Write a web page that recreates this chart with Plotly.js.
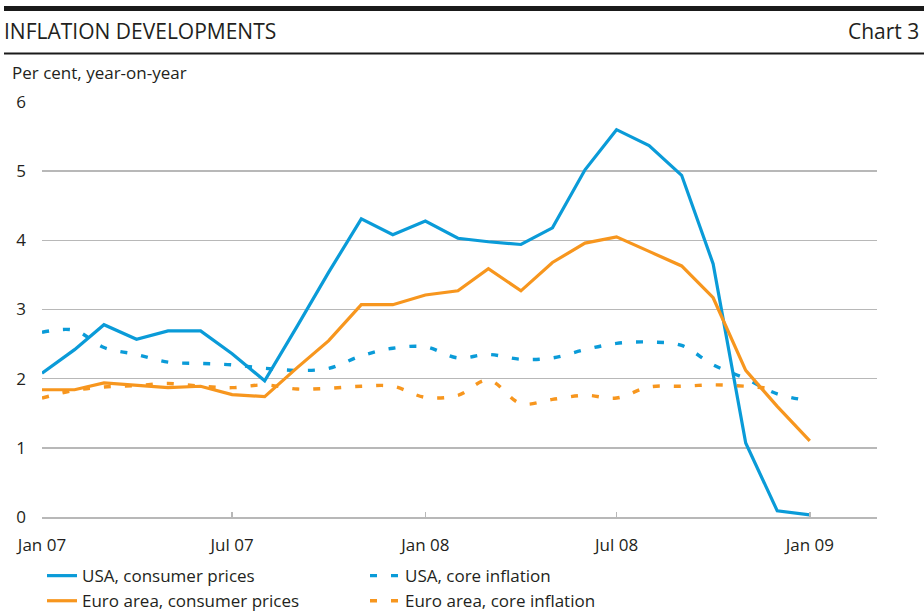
<!DOCTYPE html>
<html><head><meta charset="utf-8">
<script src="https://cdn.plot.ly/plotly-3.0.1.min.js"></script>
<style>html,body{margin:0;padding:0;background:#fff}#chart{width:924px;height:616px}</style>
</head><body><div id="chart"></div>
<script>
const months = ['2007-01-01','2007-02-01','2007-03-01','2007-04-01','2007-05-01','2007-06-01','2007-07-01','2007-08-01','2007-09-01','2007-10-01','2007-11-01','2007-12-01',
  '2008-01-01','2008-02-01','2008-03-01','2008-04-01','2008-05-01','2008-06-01','2008-07-01','2008-08-01','2008-09-01','2008-10-01','2008-11-01','2008-12-01','2009-01-01'];
const usaCpi   = [2.08,2.42,2.78,2.57,2.69,2.69,2.36,1.97,2.76,3.54,4.31,4.08,4.28,4.03,3.98,3.94,4.18,5.02,5.60,5.37,4.94,3.66,1.07,0.09,0.03];
const usaCore  = [2.67,2.70,2.45,2.35,2.24,2.22,2.20,2.15,2.12,2.15,2.33,2.44,2.46,2.30,2.35,2.28,2.30,2.42,2.51,2.53,2.48,2.20,2.00,1.78,1.68];
const euroCpi  = [1.84,1.84,1.94,1.91,1.87,1.89,1.77,1.74,2.16,2.55,3.07,3.07,3.21,3.27,3.59,3.27,3.68,3.96,4.05,3.84,3.63,3.17,2.12,1.60,1.10];
const euroCore = [1.72,1.83,1.88,1.90,1.93,1.89,1.87,1.91,1.85,1.86,1.89,1.89,1.73,1.76,1.98,1.64,1.70,1.76,1.72,1.88,1.89,1.91,1.89,1.85];
const seriesNames = ['USA, consumer prices','USA, core inflation','Euro area, consumer prices','Euro area, core inflation'];

const BLUE = '#0a9bd8', ORANGE = '#f7961e', TEXT = '#231f20', GRID = '#b8b8b8';
const FONT = '"Open Sans", "Noto Sans", sans-serif';

const traces = [
  {x: months, y: usaCpi, name: seriesNames[0], mode: 'lines', line: {color: BLUE, width: 3.2}},
  {x: months.slice(0, usaCore.length), y: usaCore, name: seriesNames[1], mode: 'lines', line: {color: BLUE, width: 3.4, dash: '7px,14px', shape: 'spline', smoothing: 1}},
  {x: months, y: euroCpi, name: seriesNames[2], mode: 'lines', line: {color: ORANGE, width: 3.2}},
  {x: months.slice(0, euroCore.length), y: euroCore, name: seriesNames[3], mode: 'lines', line: {color: ORANGE, width: 3.4, dash: '7px,14px', shape: 'spline', smoothing: 1}}
];

const layout = {
  width: 924, height: 616,
  margin: {l: 42, r: 47, t: 102, b: 99, autoexpand: false},
  paper_bgcolor: '#fff', plot_bgcolor: '#fff',
  font: {family: FONT, color: TEXT, size: 17},
  showlegend: true,
  title: {text: 'INFLATION DEVELOPMENTS', font: {family: FONT, size: 21, color: TEXT},
    xref: 'container', x: 4/924, xanchor: 'left', yref: 'container', y: 1 - 32/616, yanchor: 'middle'},
  xaxis: {
    type: 'date', range: ['2007-01-01', '2009-03-06'],
    dtick: 'M6', tick0: '2007-01-01', tickformat: '%b %y',
    ticks: 'inside', ticklen: 5, tickcolor: GRID, tickwidth: 1.5,
    showline: true, linecolor: GRID, linewidth: 1.5,
    showgrid: false, zeroline: false,
    tickfont: {size: 17, color: TEXT}, ticklabelstandoff: 12,
    fixedrange: true
  },
  yaxis: {
    range: [0, 6], dtick: 1, tick0: 0,
    showgrid: true, gridcolor: GRID, gridwidth: 1.5,
    zeroline: false, showline: false, ticks: '',
    tickfont: {size: 17, color: TEXT}, ticklabelstandoff: 15,
    fixedrange: true
  },
  legend: {
    orientation: 'h', x: 0, xanchor: 'left', y: -0.099, yanchor: 'top',
    entrywidth: 278, entrywidthmode: 'pixels',
    font: {size: 17, color: TEXT, family: FONT},
    bgcolor: 'rgba(0,0,0,0)', tracegroupgap: 0
  },
  shapes: [
    {type: 'rect', xref: 'paper', yref: 'paper', x0: (4-42)/835, x1: (924-42)/835, y0: (517-6)/415, y1: (517-11)/415, fillcolor: '#1a1a1a', line: {width: 0}},
    {type: 'rect', xref: 'paper', yref: 'paper', x0: (4-42)/835, x1: (924-42)/835, y0: (517-52.5)/415, y1: (517-54.5)/415, fillcolor: '#1a1a1a', line: {width: 0}}
  ],
  annotations: [
    {text: 'Chart 3', xref: 'paper', yref: 'paper', x: (921-42)/835, xanchor: 'right', y: (517-31)/415, yanchor: 'middle', showarrow: false, font: {size: 21, color: TEXT, family: FONT}},
    {text: 'Per cent, year-on-year', xref: 'paper', yref: 'paper', x: (10-42)/835, xanchor: 'left', y: (517-72)/415, yanchor: 'middle', showarrow: false, font: {size: 17, color: TEXT, family: FONT}}
  ]
};

Plotly.newPlot('chart', traces, layout, {displayModeBar: false, staticPlot: true});
</script>
</body></html>
